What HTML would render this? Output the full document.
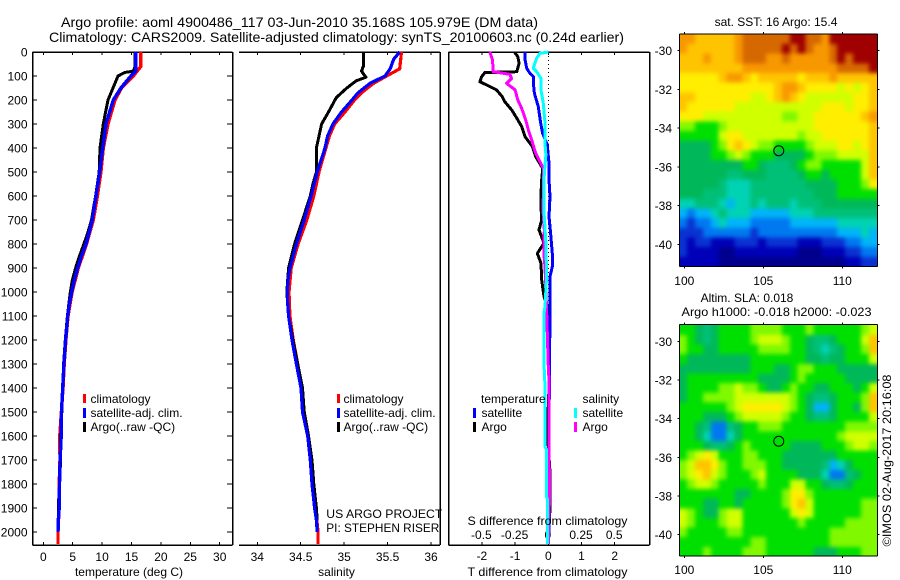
<!DOCTYPE html>
<html lang="en">
<head>
<meta charset="utf-8">
<title>Argo profile 4900486_117</title>
<style>
html,body{margin:0;padding:0;background:#fff;}
svg{display:block;}
text{font-family:"Liberation Sans",Arial,sans-serif;font-size:12px;fill:#000;}
.t{font-size:14px;}
</style>
</head>
<body>
<svg id="chart" xmlns="http://www.w3.org/2000/svg" width="900" height="580" viewBox="0 0 900 580">
<defs>
<filter id="mapBlur" filterUnits="userSpaceOnUse" x="640" y="0" width="260" height="580" color-interpolation-filters="sRGB"><feGaussianBlur stdDeviation="2.2"/></filter>
<clipPath id="clipSst"><rect x="679.5" y="34" width="198" height="232.5"/></clipPath>
<clipPath id="clipSla"><rect x="679.5" y="324.5" width="198" height="231.5"/></clipPath>
</defs>
<rect x="0" y="0" width="900" height="580" fill="#fff"/>
<g clip-path="url(#clipSst)"><g id="sstCells" filter="url(#mapBlur)"></g></g>
<g clip-path="url(#clipSla)"><g id="slaCells" filter="url(#mapBlur)"></g></g>
<g id="marks"></g>
<text class="t" x="61" y="27" textLength="477" lengthAdjust="spacingAndGlyphs">Argo profile: aoml 4900486_117 03-Jun-2010 35.168S 105.979E (DM data)</text>
<text class="t" x="49" y="42" textLength="575" lengthAdjust="spacingAndGlyphs">Climatology: CARS2009. Satellite-adjusted climatology: synTS_20100603.nc (0.24d earlier)</text>
<text x="129" y="576" text-anchor="middle">temperature (deg C)</text>
<text x="336.5" y="576" text-anchor="middle">salinity</text>
<text x="467.5" y="576" textLength="160" lengthAdjust="spacingAndGlyphs">T difference from climatology</text>
<text x="467.5" y="525" textLength="160" lengthAdjust="spacingAndGlyphs">S difference from climatology</text>
<rect x="83" y="394" width="3" height="9" fill="#f00"/>
<rect x="83" y="408" width="3" height="10" fill="#00f"/>
<rect x="83" y="422" width="3" height="10" fill="#000"/>
<text x="90.5" y="403">climatology</text>
<text x="90.5" y="417">satellite-adj. clim.</text>
<text x="90.5" y="431">Argo(..raw -QC)</text>
<rect x="337" y="394" width="3" height="9" fill="#f00"/>
<rect x="337" y="408" width="3" height="10" fill="#00f"/>
<rect x="337" y="422" width="3" height="10" fill="#000"/>
<text x="343.5" y="403">climatology</text>
<text x="343.5" y="417">satellite-adj. clim.</text>
<text x="343.5" y="431">Argo(..raw -QC)</text>
<text x="326.3" y="518" textLength="116" lengthAdjust="spacingAndGlyphs">US ARGO PROJECT</text>
<text x="326.3" y="532" textLength="113" lengthAdjust="spacingAndGlyphs">PI: STEPHEN RISER</text>
<text x="481" y="403">temperature</text>
<text x="582.5" y="403">salinity</text>
<rect x="473" y="408" width="3" height="10" fill="#00f"/>
<rect x="473" y="422" width="3" height="10" fill="#000"/>
<rect x="574" y="408" width="3" height="10" fill="#0ff"/>
<rect x="574" y="422" width="3" height="10" fill="#f0f"/>
<text x="481.5" y="417">satellite</text>
<text x="481.5" y="431">Argo</text>
<text x="582.5" y="417">satellite</text>
<text x="582.5" y="431">Argo</text>
<text x="776" y="26" text-anchor="middle">sat. SST: 16 Argo: 15.4</text>
<text x="747" y="302" text-anchor="middle">Altim. SLA: 0.018</text>
<text x="681.5" y="316" textLength="190" lengthAdjust="spacingAndGlyphs">Argo h1000: -0.018 h2000: -0.023</text>
<text transform="translate(891,546.5) rotate(-90)" textLength="172" lengthAdjust="spacingAndGlyphs">©IMOS 02-Aug-2017 20:16:08</text>
</svg>
<script>
/* ---------- profile data: temperature (deg C) ---------- */
const climTempDepth = [0,60,100,150,200,300,400,500,600,700,800,900,1000,1100,1200,1300,1400,1500,1600,1700,1800,1900,2000,2050];
const climTemp = [16.56,16.6,15.3,13.3,12.2,11.0,10.2,9.8,9.2,8.5,7.35,5.95,4.9,4.2,3.85,3.55,3.35,3.07,2.8,2.84,2.7,2.67,2.5,2.5];
const satTempDepth = [0,80,100,150,200,300,400,500,600,700,750,800,850,900,950,1000,1050,1100,1200,1300,1400,1500,1600,1700,1800,1900,1950,2000];
const satTemp = [15.7,15.7,14.9,13.2,11.9,10.66,10.1,9.6,8.96,8.33,7.8,7.26,6.5,5.85,5.27,4.83,4.42,4.15,3.8,3.5,3.3,3.1,3.05,2.85,2.75,2.7,2.55,2.5];
const argoTempDepth = [0,60,80,85,100,130,200,250,300,400,500,600,700,750,800,850,900,950,1000,1100,1200,1300,1400,1500,1600,1700,1800,1900,1950];
const argoTemp = [15.6,15.6,15.3,13.9,12.7,12.2,11.0,10.6,10.2,9.65,9.5,8.9,8.2,7.6,6.9,6.15,5.5,4.95,4.6,4.1,3.75,3.45,3.3,3.15,2.95,2.95,2.75,2.55,2.6];

/* ---------- profile data: salinity ---------- */
const climSalDepth = [0,70,100,130,170,200,250,300,350,400,500,600,700,800,900,1000,1100,1200,1300,1400,1500,1600,1700,1800,1900,2000,2050];
const climSal = [35.66,35.64,35.49,35.34,35.2,35.12,35.01,34.89,34.83,34.79,34.71,34.65,34.57,34.47,34.39,34.365,34.375,34.415,34.465,34.515,34.54,34.59,34.62,34.64,34.67,34.7,34.7];
const satSalDepth = [0,30,70,100,130,170,200,250,300,350,400,500,600,700,800,900,950,1000,1050,1100,1200,1300,1400,1500,1600,1700,1800,1900,1950,2000];
const satSal = [35.64,35.57,35.53,35.47,35.3,35.16,35.09,34.97,34.87,34.81,34.78,34.69,34.62,34.54,34.45,34.376,34.353,34.345,34.35,34.36,34.4,34.45,34.503,34.52,34.58,34.61,34.63,34.66,34.68,34.69];
const argoSalDepth = [0,60,80,105,120,150,190,250,300,350,400,450,500,550,600,700,800,900,1000,1100,1200,1300,1400,1500,1600,1700,1800,1900,1950];
const argoSal = [35.22,35.22,35.2,35.25,35.14,35.03,34.91,34.82,34.74,34.71,34.68,34.68,34.68,34.64,34.61,34.52,34.43,34.36,34.34,34.36,34.41,34.465,34.52,34.54,34.59,34.63,34.65,34.68,34.69];

/* ---------- difference profiles ---------- */
const argoTDiffDepth = [0,19,47,82,86,103,124,137,158,186,207,242,276,311,353,394,436,485,533,589,644,700,741,797,839,880,950,1019,1061,1144,1400,1580,1750,1900,2050];
const argoTDiff = [-1.02,-0.92,-0.88,-0.95,-1.91,-2.01,-2.06,-1.86,-1.56,-1.39,-1.31,-1.1,-0.95,-0.8,-0.7,-0.48,-0.38,-0.17,-0.2,-0.22,-0.22,-0.2,-0.28,-0.13,-0.33,-0.22,-0.2,-0.13,-0.02,0,0.02,-0.03,0.05,0.05,0];
const satTDiffDepth = [0,33,68,89,103,131,172,228,297,339,387,464,533,603,686,741,839,894,936,1075,1144,1283,1408,1700,2000];
const satTDiff = [-0.7,-0.7,-0.65,-0.55,-0.45,-0.45,-0.42,-0.3,-0.23,-0.17,-0.03,0.02,0.02,0.05,0.02,0.06,0.12,0.12,0.05,0.05,0.05,0.03,0.03,0.02,0.02];
const argoSDiffDepth = [0,33,82,93,110,131,158,200,235,283,325,367,422,485,533,603,658,741,839,894,1075,1213,1311,1367,1645,1853,1992,2050];
const argoSDiff = [-0.44,-0.42,-0.415,-0.29,-0.276,-0.314,-0.25,-0.23,-0.2,-0.17,-0.15,-0.125,-0.095,-0.038,-0.038,-0.038,-0.04,-0.03,-0.033,-0.025,-0.013,-0.005,0,0.005,0.005,0.01,0,0];
const satSDiffDepth = [0,6,26,68,82,110,158,214,297,381,429,505,603,658,797,936,1061,1089,1352,1380,1645,1659,1853,1867,2050];
const satSDiff = [0,-0.063,-0.088,-0.113,-0.088,-0.055,-0.055,-0.038,-0.025,-0.025,-0.018,-0.03,-0.033,-0.033,-0.018,-0.013,-0.025,-0.033,-0.03,-0.025,-0.025,-0.013,-0.013,-0.005,-0.005];

/* ---------- tick labels ---------- */
const depthTicks = [0,100,200,300,400,500,600,700,800,900,1000,1100,1200,1300,1400,1500,1600,1700,1800,1900,2000];
const tempTicks = [0,5,10,15,20,25,30];
const salTicks = [34,34.5,35,35.5,36];
const tDiffTicks = [-2,-1,0,1,2];
const sDiffTicks = [-0.5,-0.25,0,0.25,0.5];
const lonTicks = [100,105,110];
const latTicks = [-30,-32,-34,-36,-38,-40];
const floatLon = 105.979;
const floatLat = -35.168;

/* ---------- map fields (colour level, 0 = coldest/lowest, 15 = warmest/highest) ---------- */
const sstField = [
[13,13,12,12,12,12,12,13,14,14,14,14,14,14,15,15,14,14,13,15,15,15,15,15,15],
[13,12,12,12,12,12,12,13,14,14,14,14,14,15,14,15,14,13,13,14,15,15,15,15,15],
[12,12,12,13,12,12,12,13,14,14,14,13,13,14,13,13,13,13,13,14,15,14,15,15,15],
[12,12,12,12,12,12,12,12,13,13,13,13,13,13,13,13,13,13,13,13,14,14,14,14,15],
[11,11,11,11,11,12,13,13,12,11,12,12,12,12,12,11,12,12,12,13,12,12,12,12,12],
[11,11,11,11,11,11,11,11,11,11,11,11,12,13,13,12,11,11,11,11,10,11,10,11,12],
[12,12,11,11,11,11,11,11,11,10,10,11,12,13,12,11,10,10,10,10,10,10,11,11,12],
[12,11,11,11,11,11,11,10,10,10,10,10,10,10,10,10,10,10,11,11,11,10,11,11,12],
[11,11,11,10,10,10,10,10,10,10,10,10,10,9,9,10,10,11,11,11,11,11,11,12,13],
[9,9,8,8,8,9,10,10,10,10,10,10,10,10,10,10,10,11,11,11,11,11,11,11,12],
[8,8,8,8,8,10,11,11,10,10,10,10,10,10,10,9,10,10,11,11,11,11,11,11,12],
[7,7,7,7,8,9,11,12,11,10,9,9,8,8,8,8,9,10,10,10,11,11,10,11,12],
[7,7,7,7,8,8,9,10,9,8,8,8,7,7,7,7,8,9,9,9,10,10,10,10,12],
[7,7,7,7,7,7,7,7,8,8,7,6,6,6,7,8,9,9,8,8,8,8,8,10,12],
[7,7,7,7,7,7,6,6,7,7,7,6,6,6,6,7,8,8,7,8,8,8,8,10,12],
[7,7,7,7,7,6,5,5,5,6,6,6,6,6,6,6,7,7,7,7,8,8,8,9,11],
[7,7,7,6,6,6,5,5,5,6,6,6,6,6,6,6,6,7,7,7,8,8,8,8,8],
[5,5,6,6,6,5,4,5,5,6,5,6,6,6,5,6,6,6,7,7,7,7,7,7,7],
[4,3,4,4,5,6,5,5,5,4,4,4,4,4,5,5,5,6,6,6,6,6,6,6,6],
[3,2,3,3,4,5,4,4,4,3,3,3,3,3,4,4,4,4,4,4,5,5,5,5,5],
[2,2,2,3,3,3,3,3,3,2,3,3,3,3,3,3,3,3,3,3,4,4,4,5,4],
[2,1,2,2,1,1,1,2,2,2,1,2,2,2,2,1,1,1,2,2,2,3,3,4,4],
[2,1,1,1,1,0,0,1,1,1,1,1,1,1,1,0,0,0,1,1,1,2,2,3,3],
[1,1,1,1,1,0,0,0,0,0,0,0,0,0,0,0,0,0,0,0,0,1,1,2,2]
];
const slaField = [
[8,8,7,6,7,8,8,8,8,9,9,9,9,8,8,8,9,8,8,8,8,8,8,9,10],
[9,8,7,6,7,8,8,8,8,9,10,10,10,9,8,8,7,6,6,7,8,8,8,10,12],
[9,8,8,7,7,8,8,8,8,8,9,9,9,9,8,8,7,6,5,6,7,8,8,9,12],
[8,7,7,7,7,7,7,7,7,8,8,8,8,8,8,8,7,7,6,7,7,8,8,8,10],
[7,7,7,7,7,7,7,7,7,8,8,8,7,7,8,9,9,8,8,8,7,7,7,7,7],
[7,8,8,8,8,8,8,8,8,8,7,7,7,7,8,9,8,8,8,8,8,7,7,7,7],
[7,8,8,8,8,9,9,10,9,9,8,7,7,8,9,8,8,7,7,8,8,8,7,8,10],
[7,8,8,9,9,9,9,10,10,10,10,10,10,10,9,8,7,6,6,7,8,8,8,9,12],
[8,8,8,8,8,8,9,10,11,11,11,11,11,10,9,8,7,4,4,7,8,8,7,9,12],
[8,8,8,7,7,7,8,9,10,10,10,10,10,9,8,8,7,6,6,7,8,8,8,8,10],
[8,8,7,6,3,3,6,7,8,8,9,9,9,8,8,8,8,8,8,8,8,9,9,9,9],
[8,8,7,5,3,3,5,7,8,8,8,8,8,8,8,8,8,8,8,8,9,10,10,10,10],
[8,8,8,7,6,6,7,8,9,8,8,8,8,8,7,7,7,7,8,8,8,9,10,10,9],
[8,9,10,11,10,8,8,8,9,9,8,8,8,7,7,7,7,7,7,7,8,8,8,8,8],
[9,10,12,12,11,9,8,8,9,9,9,8,8,7,7,7,7,7,6,4,5,7,8,8,8],
[9,10,11,12,10,9,8,8,8,9,10,8,8,8,8,7,7,7,5,3,3,6,7,8,8],
[8,9,10,10,9,8,8,8,8,8,9,8,8,8,10,10,8,8,7,6,6,7,8,8,8],
[8,8,8,8,8,8,8,7,7,8,8,8,8,9,11,11,9,8,8,8,8,8,8,8,8],
[8,8,8,7,7,8,8,7,8,8,8,8,8,9,11,12,10,8,8,8,8,8,8,9,9],
[10,9,8,7,7,9,10,10,8,8,8,8,8,8,10,11,10,8,8,8,8,8,8,9,9],
[10,9,8,8,8,9,10,10,8,8,8,8,8,8,8,9,8,8,8,8,8,9,9,9,9],
[9,8,8,8,8,8,9,9,8,8,8,8,8,8,8,8,8,8,8,9,9,9,9,9,9],
[8,8,8,8,8,8,8,8,8,9,9,8,8,8,8,8,8,8,8,9,9,9,9,9,9],
[8,8,8,9,8,8,8,8,9,9,9,8,8,8,8,8,8,7,7,7,8,8,8,9,9]
];

/* ---------- scales ---------- */
const NS = 'http://www.w3.org/2000/svg';
const root = document.getElementById('marks');
function yDepth(d){ return 52 + d * 0.24; }
function xTemp(t){ return 43.3 + t * 5.88; }
function xSal(s){ return 257.3 + (s - 34) * 86.85; }
function xTDiff(t){ return 548.3 + t * 33.2; }
function xSDiff(s){ return 548.3 + s * 132.8; }
function xLon(lon){ return 684.3 + (lon - 100) * 15.8; }
function yLat1(lat){ return 50.7 + (-30 - lat) * 19.36; }
function yLat2(lat){ return 341.7 + (-30 - lat) * 19.26; }
function levelColor(v){
  const stops = ['#00008c','#0000b8','#0a32d2','#0078f0','#00b4f8','#00d2b4','#00c078','#00b85a','#00e000','#80f800','#d0ff00','#ffee00','#ffc400','#f89800','#d66800','#a00000'];
  const i = Math.max(0, Math.min(stops.length - 1, Math.round(v)));
  return stops[i];
}

function line(name, x1, y1, x2, y2, w){
  const el = document.createElementNS(NS, 'line');
  
  
  el.setAttribute('x1', x1);
  el.setAttribute('y1', y1);
  el.setAttribute('x2', x2);
  el.setAttribute('y2', y2);
  el.setAttribute('stroke', '#000');
  el.setAttribute('stroke-width', w || 1);
  el.setAttribute('shape-rendering', 'crispEdges');
  root.appendChild(el);
  return el;
}
function label(name, str, x, y, anchor){
  const el = document.createElementNS(NS, 'text');
  
  
  el.setAttribute('x', x);
  el.setAttribute('y', y);
  el.setAttribute('text-anchor', anchor || 'middle');
  el.textContent = str;
  root.appendChild(el);
  return el;
}
function series(name, depths, values, xf, color, w){
  const el = document.createElementNS(NS, 'polyline');
  
  
  const pts = [];
  for (let i = 0; i < depths.length; i++) pts.push(xf(values[i]).toFixed(1) + ',' + yDepth(depths[i]).toFixed(1));
  el.setAttribute('points', pts.join(' '));
  el.setAttribute('fill', 'none');
  el.setAttribute('stroke', color);
  el.setAttribute('stroke-width', w || 3);
  el.setAttribute('stroke-linejoin', 'round');
  el.setAttribute('shape-rendering', 'crispEdges');
  root.appendChild(el);
}
function heatmap(name, field, yLat, holder){
  const rows = field.length;
  for (let r = 0; r < rows; r++) {
    const cols = field[r].length;
    for (let c = 0; c < cols; c++) {
      /* edge cells run past the frame so the smoothing does not fade at the clip */
      const x0 = xLon(99.68 + c * 0.5) - (c === 0 ? 14 : 0);
      const x1 = xLon(99.68 + (c + 1) * 0.5) + (c === cols - 1 ? 14 : 0);
      const y0 = yLat(-29.15 - r * 0.5) - (r === 0 ? 14 : 0);
      const y1 = yLat(-29.15 - (r + 1) * 0.5) + (r === rows - 1 ? 14 : 0);
      const el = document.createElementNS(NS, 'rect');
      
      
      el.setAttribute('x', x0.toFixed(2));
      el.setAttribute('y', y0.toFixed(2));
      el.setAttribute('width', (x1 - x0 + 0.4).toFixed(2));
      el.setAttribute('height', (y1 - y0 + 0.4).toFixed(2));
      el.setAttribute('fill', levelColor(field[r][c]));
      el.setAttribute('shape-rendering', 'crispEdges');
      holder.appendChild(el);
    }
  }
}
function mapFrame(name, top, bottom, yLat, tickBaseline){
  const left = 679.5, right = 877.5;
  line(name + '-frame-top', left, top, right, top);
  line(name + '-frame-bottom', left, bottom, right, bottom);
  line(name + '-frame-left', left, top, left, bottom);
  line(name + '-frame-right', right, top, right, bottom);
  lonTicks.forEach(function(v){
    const x = xLon(v);
    line(name + '-lon-tick-top', x, top - 2, x, top);
    line(name + '-lon-tick-bottom', x, bottom, x, bottom + 2);
    label(name + '-lon-label', String(v), x, tickBaseline);
  });
  latTicks.forEach(function(v){
    const y = yLat(v);
    line(name + '-lat-tick-left', left - 2, y, left, y);
    line(name + '-lat-tick-right', right, y, right + 2, y);
    label(name + '-lat-label', String(v), 672, y + 4.5, 'end');
  });
  const ring = document.createElementNS(NS, 'circle');
  
  
  ring.setAttribute('cx', xLon(floatLon));
  ring.setAttribute('cy', yLat(floatLat));
  ring.setAttribute('r', 5);
  ring.setAttribute('fill', 'none');
  ring.setAttribute('stroke', '#000');
  ring.setAttribute('stroke-width', 1);
  root.appendChild(ring);
}

/* ---------- panel 1: temperature ---------- */
line('temperature-axis-top', 32.5, 52, 232.5, 52, 1.5);
line('temperature-axis-bottom', 32.5, 545, 232.5, 545, 1.5);
line('temperature-axis-left', 32.5, 52, 32.5, 545, 1.5);
line('temperature-axis-right', 232.5, 52, 232.5, 545, 1.5);
depthTicks.forEach(function(d){
  const y = yDepth(d);
  line('depth-tick-left', 32.5, y, 37, y);
  line('depth-tick-right', 227, y, 232.5, y);
  label('depth-label', String(d), 27.5, y + 4.5, 'end');
});
tempTicks.forEach(function(t){
  const x = xTemp(t);
  line('temperature-tick-top', x, 52, x, 55);
  line('temperature-tick-bottom', x, 542, x, 545);
  label('temperature-label', String(t), x, 561);
});
series('temperature-climatology-line', climTempDepth, climTemp, xTemp, '#f00', 3.4);
series('temperature-argo-line', argoTempDepth, argoTemp, xTemp, '#000', 3);
series('temperature-satellite-line', satTempDepth, satTemp, xTemp, '#00f', 3.4);

/* ---------- panel 2: salinity ---------- */
line('salinity-axis-top', 239, 52, 440, 52, 1.5);
line('salinity-axis-bottom', 239, 545, 440, 545, 1.5);
line('salinity-axis-right', 440, 52, 440, 545, 1.5);
salTicks.forEach(function(s){
  const x = xSal(s);
  line('salinity-tick-top', x, 52, x, 55);
  line('salinity-tick-bottom', x, 542, x, 545);
  label('salinity-label', String(s), x, 561);
});
series('salinity-climatology-line', climSalDepth, climSal, xSal, '#f00', 3.2);
series('salinity-argo-line', argoSalDepth, argoSal, xSal, '#000', 3);
series('salinity-satellite-line', satSalDepth, satSal, xSal, '#00f', 3.2);

/* ---------- panel 3: differences ---------- */
line('difference-axis-top', 448.5, 52, 649.5, 52, 1.5);
line('difference-axis-bottom', 448.5, 545, 649.5, 545, 1.5);
line('difference-axis-left', 448.5, 52, 448.5, 545, 1.5);
line('difference-axis-right', 649.5, 52, 649.5, 545, 1.5);
tDiffTicks.forEach(function(t){
  const x = xTDiff(t);
  line('t-difference-tick-top', x, 52, x, 55);
  line('t-difference-tick-bottom', x, 542, x, 545);
  label('t-difference-label', String(t), x, 560);
});
sDiffTicks.forEach(function(s){
  label('s-difference-label', String(s), xSDiff(s) - 0.5, 539);
});
const zeroLine = line('zero-difference-line', xTDiff(0), 52, xTDiff(0), 545);
zeroLine.setAttribute('stroke-dasharray', '1 3');
series('t-difference-argo-line', argoTDiffDepth, argoTDiff, xTDiff, '#000', 3);
series('t-difference-satellite-line', satTDiffDepth, satTDiff, xTDiff, '#00f', 3);
series('s-difference-argo-line', argoSDiffDepth, argoSDiff, xSDiff, '#f0f', 3);
series('s-difference-satellite-line', satSDiffDepth, satSDiff, xSDiff, '#0ff', 3);

/* ---------- maps ---------- */
heatmap('sst-map', sstField, yLat1, document.getElementById('sstCells'));
mapFrame('sst-map', 34, 266.5, yLat1, 285);
heatmap('sla-map', slaField, yLat2, document.getElementById('slaCells'));
mapFrame('sla-map', 324.5, 556, yLat2, 574);
</script>
</body>
</html>
